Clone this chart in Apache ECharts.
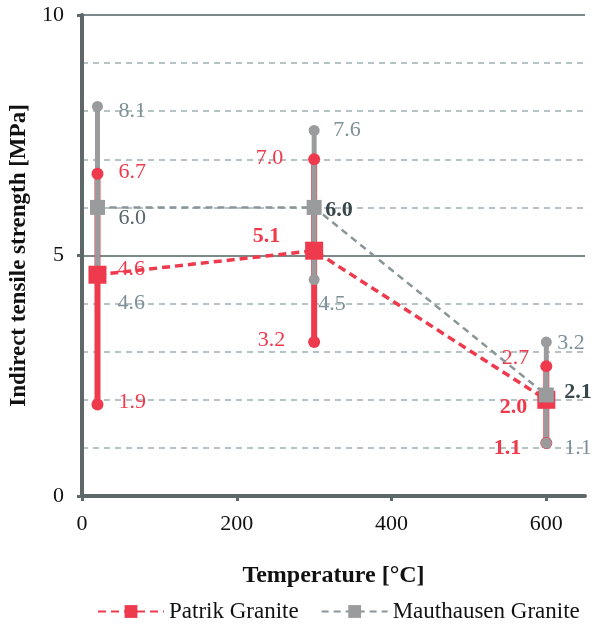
<!DOCTYPE html>
<html>
<head>
<meta charset="utf-8">
<script src="https://cdn.jsdelivr.net/npm/echarts@6/dist/echarts.min.js"></script>
<style>
html,body{margin:0;padding:0;background:#fff;}
#chart{width:594px;height:636px;}
</style>
</head>
<body>
<div id="chart"></div>
<script>
// ---------------- DATA ----------------
const temperatures = [20, 300, 600];
const patrikMean = [4.6, 5.1, 2.0];
const patrikMin = [1.9, 3.2, 1.1];
const patrikMax = [6.7, 7.0, 2.7];
const mauthMean = [6.0, 6.0, 2.1];
const mauthMin = [4.6, 4.5, 1.1];
const mauthMax = [8.1, 7.6, 3.2];
const xTicks = [0, 200, 400, 600];
const seriesNames = ['Patrik Granite', 'Mauthausen Granite'];
const xTitle = 'Temperature [°C]';
const yTitle = 'Indirect tensile strength [MPa]';

// ---------------- STYLE ----------------
const FONT = 'Liberation Serif';
const RED = '#ee3a4c';
const GRAY = '#999b9c';
const GRAY_LINE = '#8a9597';
const GRAY_TXT = '#7e9098';
const DARK_TXT = '#38474c';

// label layout per point: [align, dx, dy, bold, color]
const redMaxLab = [['left', 21, -2, false], ['right', -31, -1, false], ['right', -17, -8, false]];
const redMeanLab = [['left', 20, -6, false], ['right', -34, -14, true], ['right', -19, 8, true]];
const redMinLab = [['left', 21, -2, false], ['right', -29, -2, false], ['right', -25, 5, true]];
const grayMaxLab = [['left', 21, 5, false, GRAY_TXT], ['left', 19, 0, false, GRAY_TXT], ['left', 11, 1, false, GRAY_TXT]];
const grayMeanLab = [['left', 21, 11, false, '#56666c'], ['left', 11, 3, true, DARK_TXT], ['left', 18, -3, true, DARK_TXT]];
const grayMinLab = [['left', 20, 28, false, GRAY_TXT], ['left', 4, 25, false, GRAY_TXT], ['left', 18, 5, false, GRAY_TXT]];

function pts(vals, labs, defColor) {
  return temperatures.map((t, i) => {
    const l = labs[i];
    return {
      value: [t, vals[i]],
      label: {
        show: true,
        position: 'inside',
        align: l[0],
        verticalAlign: 'middle',
        offset: [l[1], l[2]],
        fontFamily: FONT,
        fontSize: 22,
        fontWeight: l[3] ? 'bold' : 'normal',
        color: l[4] || defColor,
        formatter: (p) => p.value[1].toFixed(1)
      }
    };
  });
}

function errData(mins, maxs) {
  return temperatures.map((t, i) => [t, mins[i], maxs[i]]);
}

function errRender(color, width) {
  return function (params, api) {
    const a = api.coord([api.value(0), api.value(1)]);
    const b = api.coord([api.value(0), api.value(2)]);
    return {
      type: 'line',
      shape: { x1: a[0], y1: a[1], x2: b[0], y2: b[1] },
      style: { stroke: color, lineWidth: width }
    };
  };
}

const chart = echarts.init(document.getElementById('chart'), null, { renderer: 'canvas' });

const option = {
  animation: false,
  backgroundColor: '#ffffff',
  textStyle: { fontFamily: FONT },
  grid: { left: 81, right: 9, top: 15, bottom: 140, containLabel: false },
  legend: {
    data: seriesNames,
    left: 92,
    bottom: 8,
    itemWidth: 66,
    itemHeight: 16,
    itemGap: 22,
    textStyle: { fontFamily: FONT, fontSize: 23, color: '#111' }
  },
  xAxis: {
    type: 'value',
    min: 0,
    max: 650,
    interval: 200,
    name: xTitle,
    nameLocation: 'middle',
    nameGap: 68,
    nameTextStyle: { fontFamily: FONT, fontSize: 24, fontWeight: 'bold', color: '#111' },
    axisLine: { show: true, lineStyle: { color: '#5f6869', width: 4 } },
    axisTick: { show: true, length: 5, lineStyle: { color: '#5f6869', width: 3 }, customValues: xTicks },
    axisLabel: { fontFamily: FONT, fontSize: 22, color: '#111', margin: 17, customValues: xTicks },
    splitLine: { show: false }
  },
  yAxis: {
    type: 'value',
    min: 0,
    max: 10,
    interval: 5,
    name: yTitle,
    nameLocation: 'middle',
    nameGap: 51,
    nameRotate: 90,
    nameTextStyle: { fontFamily: FONT, fontSize: 23, fontWeight: 'bold', color: '#111' },
    axisLine: { show: true, lineStyle: { color: '#5f6869', width: 4 } },
    axisTick: { show: true, length: 5, lineStyle: { color: '#5f6869', width: 3 } },
    axisLabel: { fontFamily: FONT, fontSize: 22, color: '#111', margin: 18 },
    splitLine: { show: true, lineStyle: { color: '#7c8989', width: 2, type: 'solid' } },
    minorTick: { show: false, splitNumber: 5 },
    minorSplitLine: { show: true, lineStyle: { color: '#9eaeb1', width: 1.5, type: [6, 5] } }
  },
  series: [
    {
      name: 'perr', type: 'custom', z: 2, silent: true,
      data: errData(patrikMin, patrikMax),
      renderItem: errRender(RED, 6),
      encode: { x: 0, y: [1, 2] }
    },
    {
      name: 'merr', type: 'custom', z: 3, silent: true,
      data: errData(mauthMin, mauthMax),
      renderItem: errRender(GRAY, 5),
      encode: { x: 0, y: [1, 2] }
    },
    {
      name: 'pends', type: 'scatter', z: 4, symbol: 'circle', symbolSize: 12,
      itemStyle: { color: RED, opacity: 1 },
      data: pts(patrikMax, redMaxLab, RED).concat(pts(patrikMin, redMinLab, RED))
    },
    {
      name: 'mends', type: 'scatter', z: 5, symbol: 'circle', symbolSize: 11,
      itemStyle: { color: GRAY, opacity: 1 },
      data: pts(mauthMax, grayMaxLab, GRAY_TXT).concat(pts(mauthMin, grayMinLab, GRAY_TXT))
    },
    {
      name: seriesNames[0], type: 'line', z: 6,
      symbol: 'rect', symbolSize: 18, showAllSymbol: true,
      itemStyle: { color: RED, opacity: 1 },
      lineStyle: { color: RED, width: 3.5, type: [8, 5] },
      data: pts(patrikMean, redMeanLab, RED)
    },
    {
      name: seriesNames[1], type: 'line', z: 7,
      symbol: 'rect', symbolSize: 15, showAllSymbol: true,
      itemStyle: { color: GRAY, opacity: 1 },
      lineStyle: { color: GRAY_LINE, width: 2.5, type: [7, 5] },
      data: pts(mauthMean, grayMeanLab, GRAY_TXT)
    }
  ]
};

chart.setOption(option);
</script>
</body>
</html>
